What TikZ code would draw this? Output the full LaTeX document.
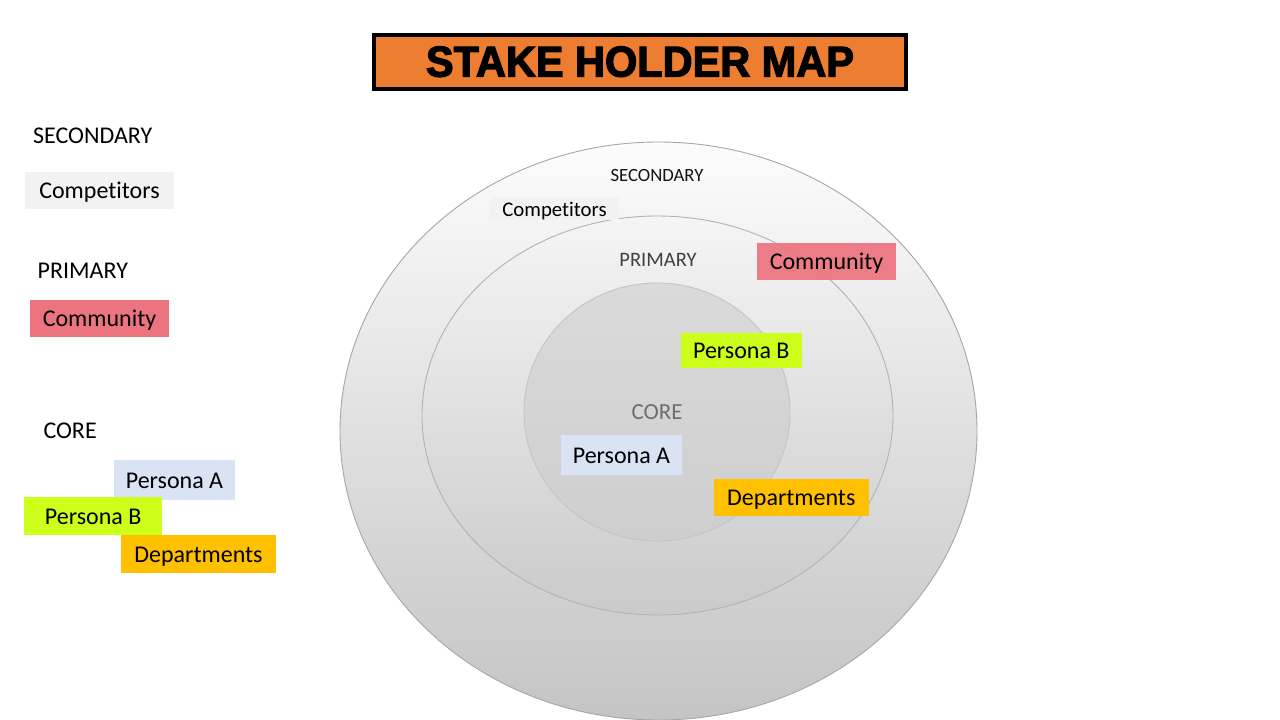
\documentclass[tikz,border=0pt]{standalone}
\usepackage{fontspec}
\setmainfont{Carlito}[Ligatures=NoCommon]
\newfontfamily\titlefont[FakeBold=3]{Liberation Sans Bold}
\usetikzlibrary{shapes.geometric}
\definecolor{ttlorange}{HTML}{ED7D31}
\definecolor{cgray}{HTML}{F2F2F2}
\definecolor{cpink}{HTML}{EC747F}
\definecolor{cblue}{HTML}{DAE3F3}
\definecolor{clime}{HTML}{CCFF1A}
\definecolor{cgold}{HTML}{FFC000}
\tikzset{
  tag/.style={inner sep=0pt, text height=19pt, text depth=2.4pt, font=\fontsize{24}{28}\selectfont, text=black},
  smalltag/.style={inner sep=0pt, text height=16.5pt, text depth=2.1pt, font=\fontsize{20.8}{24}\selectfont, text=black},
  lbl/.style={anchor=base west, inner sep=0pt, font=\fontsize{24}{28}\selectfont, text=black},
  clbl/.style={anchor=base, inner sep=0pt},
  ring/.style={ellipse, inner sep=0pt, line width=0.9pt}
}
\begin{document}
\begin{tikzpicture}[x=1pt,y=-1pt]
\useasboundingbox (0,0) rectangle (1280,720);
\fill[white] (0,0) rectangle (1280,720);
% title
\node[draw=black, line width=4.5pt, fill=ttlorange, minimum width=532pt, minimum height=54pt, inner sep=0pt] (title) at (640,62) {};
\node[inner sep=0pt, anchor=base, font=\titlefont\fontsize{43}{46}\selectfont, xscale=0.965] (titletext) at (640,76.5) {STAKE HOLDER MAP};
% rings
\node[ring, draw={rgb,255:red,166;green,166;blue,166}, top color={rgb,255:red,252;green,252;blue,252}, bottom color={rgb,255:red,196;green,196;blue,196}, minimum width=637pt, minimum height=578pt] (outer) at (658.5,431) {};
\node[ring, draw={rgb,255:red,178;green,178;blue,178}, top color={rgb,255:red,245;green,245;blue,245}, bottom color={rgb,255:red,202;green,202;blue,202}, minimum width=471pt, minimum height=399pt] (middle) at (657.5,415.5) {};
\node[ring, draw={rgb,255:red,196;green,196;blue,196}, top color={rgb,255:red,218;green,218;blue,218}, bottom color={rgb,255:red,206;green,206;blue,206}, minimum width=266pt, minimum height=258pt] (inner) at (657,412) {};
% ring labels
\node[clbl, font=\fontsize{18.7}{22}\selectfont, text={rgb,255:red,20;green,20;blue,20}] (sec) at (657,181) {SECONDARY};
\node[clbl, font=\fontsize{20.5}{24}\selectfont, text={rgb,255:red,64;green,64;blue,64}] (pri) at (658,266) {PRIMARY};
\node[clbl, font=\fontsize{23}{27}\selectfont, text={rgb,255:red,110;green,110;blue,110}] (cor) at (657,419.3) {CORE};
% ring tags
\node[smalltag, fill=cgray, minimum width=129pt, minimum height=23pt] (compR) at (554.5,208.8) {Competitors};
\node[tag, fill=cpink, fill opacity=0.93, text opacity=1, minimum width=139pt, minimum height=36.5pt] (commR) at (826.5,261.3) {Community};
\node[tag, fill=clime, minimum width=121pt, minimum height=34.5pt] (pbR) at (741.3,350.3) {Persona B};
\node[tag, fill=cblue, minimum width=121pt, minimum height=40pt] (paR) at (621.5,455) {Persona A};
\node[tag, fill=cgold, minimum width=155pt, minimum height=37pt] (depR) at (791.3,497.3) {Departments};
% left legend
\node[lbl] (secL) at (33,143.3) {SECONDARY};
\node[tag, fill=cgray, minimum width=149pt, minimum height=37pt] (compL) at (99.5,190.3) {Competitors};
\node[lbl] (priL) at (37.5,278.3) {PRIMARY};
\node[tag, fill=cpink, minimum width=139pt, minimum height=36.7pt] (commL) at (99.5,318.3) {Community};
\node[lbl] (corL) at (43.3,438.3) {CORE};
\node[tag, fill=cblue, minimum width=120.4pt, minimum height=40pt] (paL) at (174.5,480) {Persona A};
\node[tag, fill=clime, minimum width=138.3pt, minimum height=37.4pt] (pbL) at (93.2,516) {Persona B};
\node[tag, fill=cgold, minimum width=155pt, minimum height=37.7pt] (depL) at (198.5,553.8) {Departments};
\end{tikzpicture}
\end{document}
